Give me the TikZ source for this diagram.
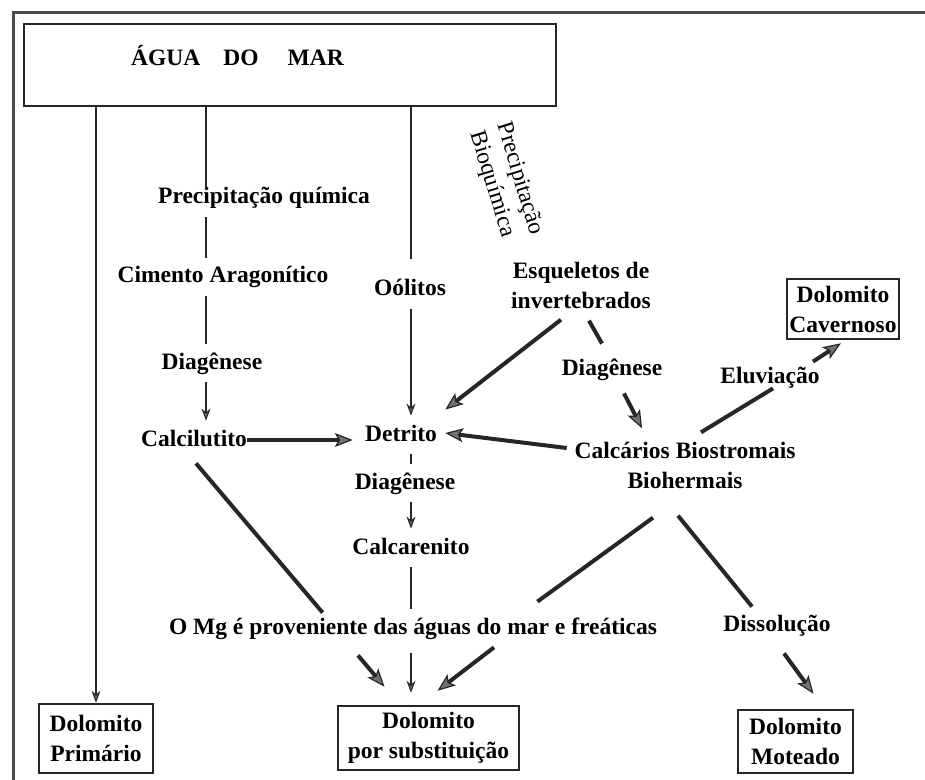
\documentclass[tikz,border=0pt]{standalone}
\usepackage{fontspec}
\setmainfont{Liberation Serif}
\usetikzlibrary{arrows.meta}

\begin{document}
\begin{tikzpicture}[x=0.5pt,y=-0.5pt]
	\tikzset{every node/.style={font=\bfseries\fontsize{11.75}{15}\selectfont}}
	\tikzset{txt/.style={inner sep=0pt, text height=8.5pt, text depth=2.5pt}}
	\tikzset{txt2/.style={inner sep=0pt, align=center}}
	\tikzset{box/.style={draw=black!85, line width=1.25pt, inner sep=0pt, align=center}}
	\tikzset{thin line/.style={draw=black!85, line width=1.2pt, shorten <=4pt, shorten >=4pt}}
	\tikzset{thin arrow/.style={thin line, -{Stealth[length=6pt, width=4.5pt, line width=0.5pt, fill=black!60]}}}
	\tikzset{heavy line/.style={draw=black!85, line width=2pt}}
	\tikzset{heavy arrow/.style={heavy line, -{Stealth[length=9pt, width=7pt, inset=2pt, line width=0.6pt, fill=black!55]}}}
	\useasboundingbox (0,0) rectangle (925,780);
	%frame
	\draw[line width=1.5pt, black!70] (925,13) -- (13,13) -- (13,780);
	%columns
	\coordinate (colA) at (206,0);
	\coordinate (colB) at (411,0);
	%boxes
	\node[box, minimum width=266pt, minimum height=41pt] (mar) at (290,65) {};
	\node[txt] (marlbl) at (237.5,60) {ÁGUA\hspace{11.5pt}DO\hspace{14.5pt}MAR};
	\node[box, minimum width=57pt, minimum height=34.5pt] (prim) at (96,738.5) {Dolomito\\Primário};
	\node[box, minimum width=90.5pt, minimum height=32pt] (subst) at (428.5,738) {Dolomito\\por substituição};
	\node[box, minimum width=57.5pt, minimum height=31.5pt] (mot) at (795.5,741.5) {Dolomito\\Moteado};
	\node[box, minimum width=56pt, minimum height=30pt] (cav) at (843,309) {Dolomito\\Cavernoso};
	%texts
	\node[txt] (precq) at (264,198) {Precipitação química};
	\node[txt] (cim) at (223,277) {Cimento Aragonítico};
	\node[txt] (diag1) at (212,363) {Diagênese};
	\node[txt] (calci) at (194,440) {Calcilutito};
	\node[txt] (ool) at (410,290) {Oólitos};
	\node[txt] (detr) at (401,435) {Detrito};
	\node[txt] (diag2) at (405,483) {Diagênese};
	\node[txt] (calcar) at (411,548) {Calcarenito};
	\node[txt] (mg) at (413,628) {O Mg é proveniente das águas do mar e freáticas};
	\node[txt2] (esq) at (581,285) {Esqueletos de\\invertebrados};
	\node[txt] (diag3) at (612,369) {Diagênese};
	\node[txt] (eluv) at (770,377) {Eluviação};
	\node[txt2] (calc) at (685,465) {Calcários Biostromais\\Biohermais};
	\node[txt] (diss) at (777,625) {Dissolução};
	\node[txt2, align=left, rotate=-73, font=\mdseries\fontsize{11.75}{14}\selectfont] (bioq) at (506,183) {Precipitação\\Bioquímica};
	%edges
	\path (mar.south -| prim.north) edge[thin arrow, shorten <=0pt, shorten >=0pt] (prim.north);
	\path (mar.south -| colA) edge[thin line, shorten <=0pt, shorten >=0pt] (precq.north -| colA);
	\path (precq.south -| colA) edge[thin line] (cim.north -| colA);
	\path (cim.south -| colA) edge[thin line] (diag1.north -| colA);
	\path (diag1.south -| colA) edge[thin arrow] (calci.north -| colA);
	\path (mar.south -| colB) edge[thin line, shorten <=0pt, shorten >=10pt] (ool.north -| colB);
	\path (ool.south -| colB) edge[thin arrow] (detr.north -| colB);
	\path (detr.south -| colB) edge[thin line] (diag2.north -| colB);
	\path (diag2.south -| colB) edge[thin arrow] (calcar.north -| colB);
	\path (calcar.south -| colB) edge[thin line] (mg.north -| colB);
	\path (mg.south -| colB) edge[thin arrow, shorten <=7pt, shorten >=6pt] (subst.north -| colB);
	\path (calci.east) edge[heavy arrow, shorten >=6pt] (calci.east -| detr.west);
	\path ([xshift=-10pt,yshift=-5.5pt]esq.south) edge[heavy arrow] ([xshift=4pt,yshift=7pt]detr.north east);
	\path ([xshift=4pt,yshift=-6pt]esq.south) edge[heavy line] ([xshift=-5pt,yshift=7pt]diag3.north);
	\path ([xshift=6pt,yshift=-6.5pt]diag3.south) edge[heavy arrow] ([xshift=-21.5pt,yshift=6.5pt]calc.north);
	\path ([xshift=-3.75pt,yshift=8.5pt]calc.west) edge[heavy arrow] ([xshift=4pt,yshift=1pt]detr.east);
	\path ([xshift=8pt,yshift=4.5pt]calc.north) edge[heavy line] ([xshift=1.5pt]eluv.south);
	\path ([xshift=-3.5pt,yshift=2pt]eluv.north east) edge[heavy arrow] ([xshift=-1pt,yshift=-1.5pt]cav.south);
	\path ([xshift=1pt,yshift=-6pt]calci.south) edge[heavy line] ([xshift=77pt,yshift=2pt]mg.north west);
	\path ([xshift=-16pt,yshift=-14.5pt]calc.south) edge[heavy line] ([xshift=-60pt,yshift=7.5pt]mg.north east);
	\path ([xshift=-3.5pt,yshift=-13.5pt]calc.south) edge[heavy line] ([xshift=-12.5pt,yshift=3.5pt]diss.north);
	\path ([xshift=-27.5pt,yshift=-8pt]mg.south) edge[heavy arrow] ([xshift=-22pt,yshift=9pt]subst.north);
	\path ([xshift=40.5pt,yshift=-4pt]mg.south) edge[heavy arrow] ([xshift=4.5pt,yshift=7pt]subst.north);
	\path ([xshift=3.5pt,yshift=-8.5pt]diss.south) edge[heavy arrow] ([xshift=9pt,yshift=7.5pt]mot.north);
\end{tikzpicture}
\end{document}
